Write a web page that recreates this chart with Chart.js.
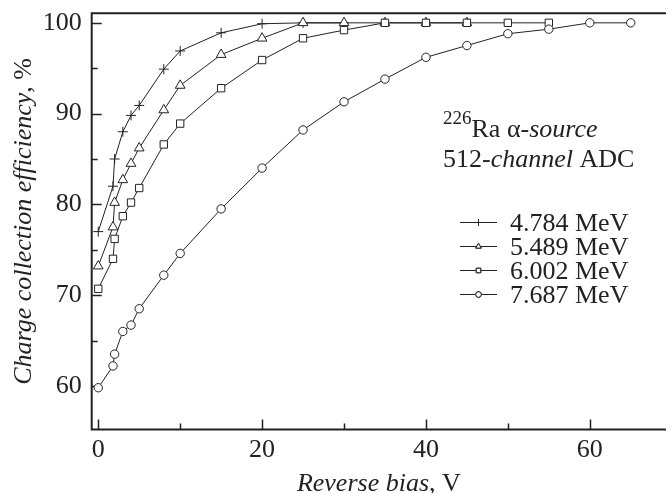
<!DOCTYPE html>
<html>
<head>
<meta charset="utf-8">
<script src="https://cdn.jsdelivr.net/npm/chart.js@4.4.0/dist/chart.umd.min.js"></script>
<style>
  html, body { margin: 0; padding: 0; background: #fff; }
  #wrap { width: 666px; height: 493px; }
</style>
</head>
<body>
<div id="wrap"><canvas id="chart" width="666" height="493"></canvas></div>
<script>
// reverse bias, V (shared by all series, shorter series stop early)
var biasVolts = [0, 1.8, 2, 3, 4, 5, 8, 10, 15, 20, 25, 30, 35, 40, 45, 50, 55, 60, 65];
// charge collection efficiency, %
var eff4784 = [77, 82, 85, 88, 89.8, 90.9, 94.9, 96.9, 98.9, 99.9, 100, 100];
var eff5489 = [73.2, 77.5, 80.2, 82.7, 84.5, 86.2, 90.4, 93.1, 96.5, 98.3, 100, 100, 100, 100, 100];
var eff6002 = [70.7, 74, 76.2, 78.7, 80.2, 81.8, 86.6, 88.9, 92.8, 95.9, 98.3, 99.2, 100, 100, 100, 100, 100];
var eff7687 = [59.8, 62.2, 63.5, 66, 66.7, 68.5, 72.2, 74.6, 79.5, 84, 88.2, 91.3, 93.8, 96.2, 97.5, 98.8, 99.3, 100, 100];
var seriesLabels = ['4.784 MeV', '5.489 MeV', '6.002 MeV', '7.687 MeV'];

var xTicks = [0, 20, 40, 60];
var xMinor = [10, 30, 50];
var yTicks = [60, 70, 80, 90, 100];
var yMinor = [65, 75, 85, 95];

var ink = '#222';
var serif = '"Liberation Serif", "Times New Roman", serif';

function makeSet(label, vals, style, radius, order) {
    return {
        label: label,
        data: vals.map(function (v, i) { return { x: biasVolts[i], y: v }; }),
        showLine: true,
        borderColor: ink,
        borderWidth: 1,
        pointStyle: style,
        pointRadius: radius,
        pointBackgroundColor: '#fff',
        pointBorderColor: ink,
        pointBorderWidth: 1,
        clip: false,
        order: order
    };
}

function drawParts(ctx, parts, x, y) {
    // parts: [text, font, optional baseline] drawn left to right from x
    parts.forEach(function (p) {
        ctx.font = p[1];
        ctx.fillText(p[0], x, p[2] !== undefined ? p[2] : y);
        x += ctx.measureText(p[0]).width;
    });
}

function partsWidth(ctx, parts) {
    var w = 0;
    parts.forEach(function (p) { ctx.font = p[1]; w += ctx.measureText(p[0]).width; });
    return w;
}

function noPad(s) {
    s.paddingTop = 0; s.paddingBottom = 0; s.paddingLeft = 0; s.paddingRight = 0;
}

var framePlugin = {
    id: 'frame',
    beforeDatasetsDraw: function (chart) {
        var ctx = chart.ctx, a = chart.chartArea;
        var xs = chart.scales.x, ys = chart.scales.y;
        ctx.save();
        ctx.strokeStyle = ink;
        ctx.lineWidth = 2;
        // frame runs off the right edge of the picture
        ctx.beginPath();
        ctx.moveTo(chart.width, a.top);
        ctx.lineTo(a.left, a.top);
        ctx.lineTo(a.left, a.bottom);
        ctx.lineTo(chart.width, a.bottom);
        ctx.stroke();

        ctx.lineWidth = 1.5;
        ctx.beginPath();
        xTicks.concat(xMinor).forEach(function (v) {
            var px = Math.round(xs.getPixelForValue(v)) + 0.5;
            var len = xTicks.indexOf(v) >= 0 ? 10 : 6;
            ctx.moveTo(px, a.bottom);
            ctx.lineTo(px, a.bottom - len);
        });
        yTicks.concat(yMinor).forEach(function (v) {
            var py = Math.round(ys.getPixelForValue(v)) + 0.5;
            var len = yTicks.indexOf(v) >= 0 ? 10 : 6;
            ctx.moveTo(a.left, py);
            ctx.lineTo(a.left + len, py);
        });
        ctx.stroke();
        ctx.restore();
    },
    afterDraw: function (chart) {
        var ctx = chart.ctx, a = chart.chartArea;
        var up = '26px ' + serif, it = 'italic 26px ' + serif;
        ctx.save();
        ctx.fillStyle = ink;
        ctx.textBaseline = 'alphabetic';

        // axis titles
        var xt = [['Reverse bias', it], [', V', up]];
        drawParts(ctx, xt, (a.left + chart.width) / 2 - partsWidth(ctx, xt) / 2, 491);

        var yt = [['Charge collection efficiency', it], [', %', up]];
        ctx.save();
        ctx.translate(31, (a.top + a.bottom) / 2);
        ctx.rotate(-Math.PI / 2);
        drawParts(ctx, yt, -partsWidth(ctx, yt) / 2, 0);
        ctx.restore();

        // source note
        drawParts(ctx, [['226', '19px ' + serif, 123.5], ['Ra \u03b1-', up, 137], ['source', it, 137]], 443, 137);
        drawParts(ctx, [['512-', up], ['channel', it], [' ADC', up]], 443, 167);

        // legend
        var rows = [222, 246, 270, 294];
        chart.data.datasets.forEach(function (ds, i) {
            var y = rows[i];
            ctx.strokeStyle = ink;
            ctx.lineWidth = 1;
            ctx.beginPath();
            ctx.moveTo(460, y + 0.5);
            ctx.lineTo(497, y + 0.5);
            ctx.stroke();
            Chart.helpers.drawPoint(ctx, {
                pointStyle: ds.pointStyle,
                radius: ds.pointStyle === 'circle' ? 2.8 : 3.2,
                borderWidth: 1,
                rotation: 0
            }, 478.5, y + 0.5);
            ctx.fillStyle = '#fff';
            ctx.fill();
            ctx.stroke();
            ctx.fillStyle = ink;
            ctx.font = up;
            ctx.fillText(ds.label, 510, y + 9);
        });
        ctx.restore();
    }
};

var ctx = document.getElementById('chart').getContext('2d');

var myChart = new Chart(ctx, {
    type: 'scatter',
    data: {
        datasets: [
            makeSet(seriesLabels[0], eff4784, 'cross', 5, 4),
            makeSet(seriesLabels[1], eff5489, 'triangle', 5.6, 3),
            makeSet(seriesLabels[2], eff6002, 'rect', 5.2, 2),
            makeSet(seriesLabels[3], eff7687, 'circle', 4.2, 1)
        ]
    },
    options: {
        responsive: false,
        animation: false,
        devicePixelRatio: 1,
        layout: { padding: { top: 13.3, left: 0, right: 0, bottom: 0 } },
        plugins: {
            legend: { display: false },
            tooltip: { enabled: false }
        },
        scales: {
            x: {
                type: 'linear',
                min: -0.8,
                max: 68.5,
                grid: { display: false, drawTicks: false },
                border: { display: false },
                afterBuildTicks: function (s) { s.ticks = xTicks.map(function (v) { return { value: v }; }); },
                afterFit: function (s) { s.height = 63.5; noPad(s); },
                ticks: {
                    color: ink,
                    padding: 8,
                    maxRotation: 0,
                    autoSkip: false,
                    font: { family: serif, size: 26, lineHeight: 1 }
                }
            },
            y: {
                type: 'linear',
                min: 55.2,
                max: 101.05,
                grid: { display: false, drawTicks: false },
                border: { display: false },
                afterBuildTicks: function (s) { s.ticks = yTicks.map(function (v) { return { value: v }; }); },
                afterFit: function (s) { s.width = 91.7; noPad(s); },
                ticks: {
                    color: ink,
                    padding: 10,
                    autoSkip: false,
                    font: { family: serif, size: 26, lineHeight: 1 }
                }
            }
        }
    },
    plugins: [framePlugin]
});
</script>
</body>
</html>
